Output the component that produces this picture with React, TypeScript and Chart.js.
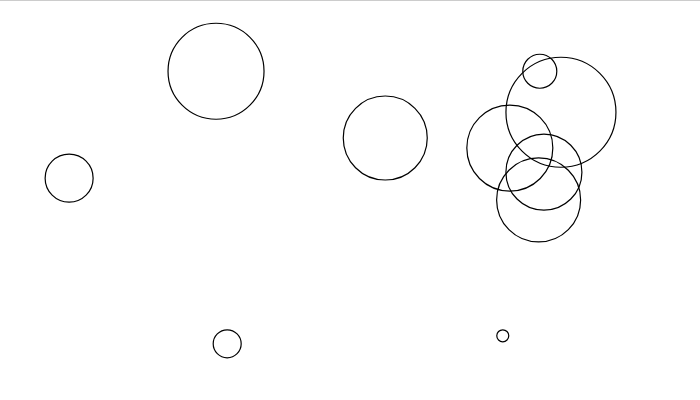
import React, { useEffect, useRef } from "react";
import { Chart, registerables } from "chart.js";

Chart.register(...registerables);

const xValues = [27.2, 2.2, 56.0, 29.1, 76.0, 82.3, 85.9, 77.2, 83.0, 82.1];
const yValues = [95.1, 57.8, 71.8, 0.0, 2.8, 95.1, 80.8, 68.3, 59.9, 50.2];
const radii = [48, 24, 42, 14, 6, 17, 55, 43, 38, 42];

export default function App() {
  const ref = useRef<HTMLCanvasElement>(null);
  useEffect(() => {
    document.body.style.margin = "0";
    const ctx = ref.current!;
    const data = xValues.map((x, i) => ({ x, y: yValues[i], r: radii[i] }));
    const chart = new Chart(ctx, {
      type: "bubble",
      data: {
        datasets: [
          {
            data,
            borderColor: "#000",
            backgroundColor: "rgba(0,0,0,0)",
            borderWidth: 1.2,
            clip: false,
          },
        ],
      },
      options: {
        animation: false,
        responsive: false,
        layout: { padding: 0 },
        plugins: { legend: { display: false }, tooltip: { enabled: false } },
        scales: {
          x: { type: "linear", min: 0, max: 100, display: false },
          y: { type: "linear", min: 0, max: 100, display: false },
        },
      },
    });
    return () => chart.destroy();
  }, []);
  return (
    <div style={{ width: 700, height: 400, borderTop: "1px solid #ccc", boxSizing: "border-box" }}>
      <canvas ref={ref} width={700} height={399} style={{ display: "block" }} />
    </div>
  );
}
